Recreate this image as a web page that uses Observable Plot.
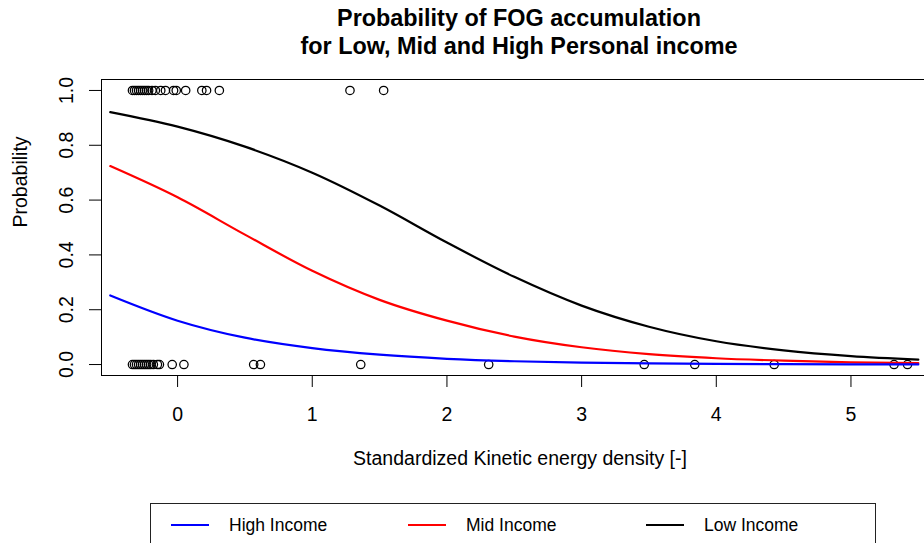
<!DOCTYPE html>
<html>
<head>
<meta charset="utf-8">
<script src="https://cdn.jsdelivr.net/npm/d3@7"></script>
<script src="https://cdn.jsdelivr.net/npm/@observablehq/plot@0.6"></script>
<style>
  html, body { margin: 0; padding: 0; background: white; overflow: hidden; width: 924px; height: 543px; }
  body { position: relative; font-family: "Liberation Sans", Arial, Helvetica, sans-serif; }
  #title { position: absolute; z-index: 2; top: 4px; left: 0; width: 1038px; text-align: center;
           font-weight: bold; font-size: 23.4px; line-height: 28px; color: #000; }
  #chart { position: absolute; z-index: 1; top: 0; left: 0; width: 940px; }
  #legend { position: absolute; z-index: 2; left: 150px; top: 503px; width: 724px; height: 70px;
            border: 1.3px solid #222; background: white; }
  .sw { position: absolute; top: 20px; width: 38px; height: 2.3px; }
  .lt { position: absolute; top: 11px; font-size: 17.5px; line-height: 20px; color: #000; white-space: nowrap; }
</style>
</head>
<body>
<div id="chart"></div>
<div id="title">Probability of FOG accumulation<br>for Low, Mid and High Personal income</div>
<div id="legend"></div>
<script>
// ---- data ----
const xGrid      = [-0.5, 0, 0.5, 1, 1.5, 2, 2.5, 3, 3.5, 4, 4.5, 5, 5.5];
const highIncome = [0.252, 0.160, 0.098, 0.060, 0.036, 0.021, 0.012, 0.007, 0.004, 0.0024, 0.0014, 0.0008, 0.0005];
const midIncome  = [0.724, 0.610, 0.474, 0.342, 0.236, 0.160, 0.102, 0.063, 0.038, 0.023, 0.014, 0.008, 0.005];
const lowIncome  = [0.921, 0.868, 0.795, 0.700, 0.580, 0.445, 0.320, 0.215, 0.138, 0.085, 0.052, 0.031, 0.018];

// observed outcomes (x positions) at probability 1 and 0
const observedOnes  = [-0.335, -0.32, -0.305, -0.29, -0.275, -0.26, -0.245, -0.23, -0.215, -0.19,
                       -0.165, -0.125, -0.09, -0.03, -0.01, 0.06, 0.18, 0.215, 0.31, 1.28, 1.53];
const observedZeros = [-0.335, -0.32, -0.305, -0.29, -0.275, -0.26, -0.245, -0.23, -0.215, -0.2,
                       -0.18, -0.15, -0.135, -0.04, 0.047, 0.565, 0.615, 1.36, 2.31, 3.465, 3.84, 4.43, 5.32, 5.42];

const xTicks = [0, 1, 2, 3, 4, 5];
const yTicks = [0, 0.2, 0.4, 0.6, 0.8, 1.0];

const seriesNames  = ["High Income", "Mid Income", "Low Income"];
const seriesColors = ["#0000ff", "#ff0000", "#000000"];

const xTitle = "Standardized Kinetic energy density [-]";
const yTitle = "Probability";

const toRows = (vals) => xGrid.map((x, i) => ({x, p: vals[i]}));

const font = "'Liberation Sans', Arial, Helvetica, sans-serif";

const chart = Plot.plot({
  width: 940,
  height: 500,
  marginTop: 79,
  marginBottom: 125,
  marginLeft: 101,
  marginRight: 2,
  x: {domain: [-0.565, 5.65]},
  y: {domain: [-0.04, 1.04]},
  style: {fontFamily: font, fontSize: "19.5px", background: "transparent", maxWidth: "none", overflow: "visible", color: "black"},
  marks: [
    Plot.axisX({ticks: xTicks, tickSize: 12, tickPadding: 20, tickFormat: d => String(d), label: null, fontSize: 19.5}),
    Plot.axisY({ticks: yTicks, tickSize: 12, tickFormat: () => "", label: null}),
    Plot.text(yTicks, {y: d => d, frameAnchor: "left", dx: -35, text: d => d.toFixed(1), rotate: -90,
                       fontSize: 19.5, textAnchor: "middle", lineAnchor: "middle", fill: "black"}),
    Plot.text([xTitle], {frameAnchor: "bottom", dy: 83, text: d => d, fontSize: 19.5, lineAnchor: "middle", fill: "black"}),
    Plot.text([yTitle], {frameAnchor: "left", dx: -81, text: d => d, rotate: -90, fontSize: 19.5, lineAnchor: "middle", fill: "black"}),
    Plot.dot(observedOnes,  {x: d => d, y: () => 1, r: 4.2, stroke: "black", strokeWidth: 1.25, fill: "none"}),
    Plot.dot(observedZeros, {x: d => d, y: () => 0, r: 4.2, stroke: "black", strokeWidth: 1.25, fill: "none"}),
    Plot.line(toRows(lowIncome),  {x: "x", y: "p", stroke: seriesColors[2], strokeWidth: 2.2, curve: "monotone-x"}),
    Plot.line(toRows(midIncome),  {x: "x", y: "p", stroke: seriesColors[1], strokeWidth: 2.2, curve: "monotone-x"}),
    Plot.line(toRows(highIncome), {x: "x", y: "p", stroke: seriesColors[0], strokeWidth: 2.2, curve: "monotone-x"}),
    Plot.frame({stroke: "black", strokeWidth: 1})
  ]
});
document.getElementById("chart").appendChild(chart);

// legend
const legend = document.getElementById("legend");
const swLeft = [20, 257, 495];
const txLeft = [78, 315, 553];
seriesNames.forEach((name, i) => {
  const s = document.createElement("div");
  s.className = "sw";
  s.style.left = swLeft[i] + "px";
  s.style.background = seriesColors[i];
  legend.appendChild(s);
  const t = document.createElement("div");
  t.className = "lt";
  t.style.left = txLeft[i] + "px";
  t.textContent = name;
  legend.appendChild(t);
});
</script>
</body>
</html>
